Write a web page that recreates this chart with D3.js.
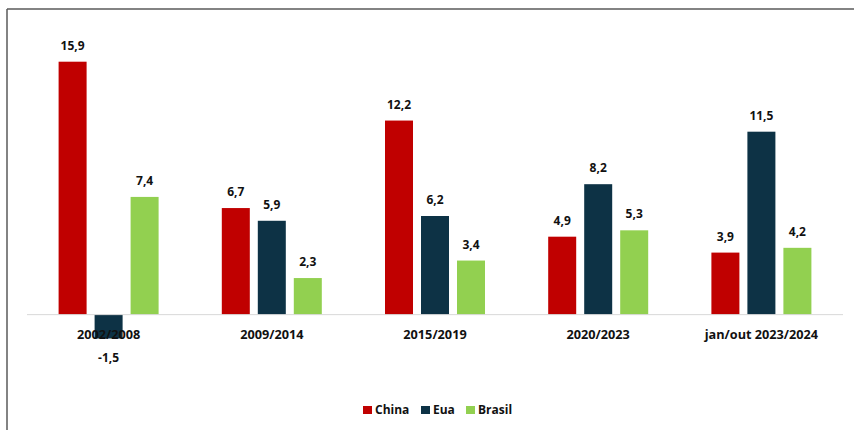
<!DOCTYPE html>
<html><head><meta charset="utf-8">
<script src="https://cdn.jsdelivr.net/npm/d3@7"></script>
<style>body{margin:0;background:#fff}</style>
</head><body>
<svg id="c" width="854" height="430"></svg>
<script>
const categories = ["2002/2008","2009/2014","2015/2019","2020/2023","jan/out 2023/2024"];
const seriesNames = ["China","Eua","Brasil"];
const china = [15.9, 6.7, 12.2, 4.9, 3.9];
const eua = [-1.5, 5.9, 6.2, 8.2, 11.5];
const brasil = [7.4, 2.3, 3.4, 5.3, 4.2];
const colors = ["#c00000","#0d3245","#92d050"];

const values = [china, eua, brasil];
const svg = d3.select("#c");
const font = "'Open Sans', 'Noto Sans', sans-serif";

// frame
svg.append("line").attr("x1",7).attr("x2",854).attr("y1",9).attr("y2",9).attr("stroke","#5a5a5a").attr("stroke-width",1.5);
svg.append("line").attr("x1",7).attr("x2",7).attr("y1",9).attr("y2",430).attr("stroke","#5a5a5a").attr("stroke-width",1.5);

const x0 = d3.scaleBand().domain(categories).range([27,843]).paddingInner(0).paddingOuter(0);
const x1 = d3.scaleBand().domain(seriesNames).range([-50,50]).paddingInner(8/36).paddingOuter(0);
const y = d3.scaleLinear().domain([-1.5,15.9]).range([338.5,61.7]);

const fmt = v => d3.format(".1f")(v).replace(".",",").replace("\u2212","-");

const g = svg.append("g");
categories.forEach((cat,i)=>{
  const cx = x0(cat)+x0.bandwidth()/2;
  seriesNames.forEach((s,j)=>{
    const v = values[j][i];
    const bx = cx + x1(s);
    g.append("rect").attr("x",bx).attr("width",x1.bandwidth())
      .attr("y",y(Math.max(0,v))).attr("height",Math.abs(y(v)-y(0)))
      .attr("fill",colors[j]);
    g.append("text").attr("x",bx+x1.bandwidth()/2)
      .attr("y", v>=0 ? y(v)-12 : y(v)+23)
      .attr("text-anchor","middle").attr("font-family",font).attr("font-weight","bold")
      .attr("font-size",12).attr("fill","#111")
      .text(fmt(v));
  });
});

// axis baseline
svg.append("line").attr("x1",27).attr("x2",843).attr("y1",y(0)).attr("y2",y(0)).attr("stroke","#d9d9d9").attr("stroke-width",1);

// category labels
const ax = svg.append("g").attr("transform",`translate(0,${y(0)})`)
  .call(d3.axisBottom(x0).tickSize(0).tickPadding(0));
ax.select(".domain").remove();
ax.selectAll("text").attr("dy",0).attr("y",24).attr("font-family",font).attr("font-weight","bold")
  .attr("font-size",12.7).attr("fill","#111");

// legend
const legX = [363,421,466];
const leg = svg.append("g");
seriesNames.forEach((s,j)=>{
  leg.append("rect").attr("x",legX[j]).attr("y",406).attr("width",9).attr("height",8).attr("fill",colors[j]);
  leg.append("text").attr("x",legX[j]+12).attr("y",414).attr("font-family",font).attr("font-weight","bold")
    .attr("font-size",12).attr("fill","#111").text(s);
});
</script>
</body></html>
